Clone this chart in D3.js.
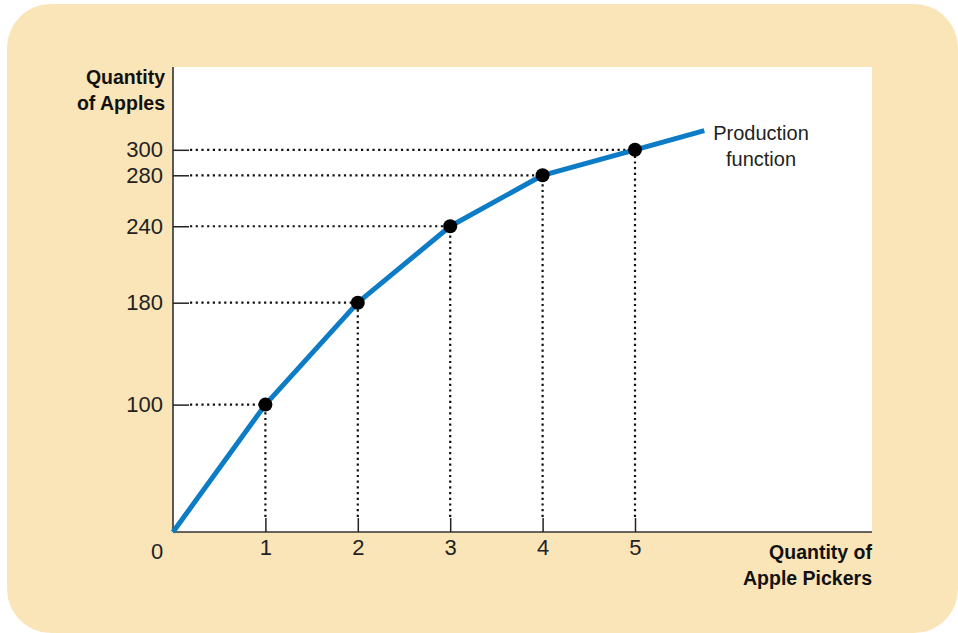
<!DOCTYPE html>
<html><head><meta charset="utf-8">
<script src="https://cdn.jsdelivr.net/npm/d3@7"></script>
<style>body{margin:0;background:#fff}svg{display:block}</style>
</head><body>
<svg id="c" width="958" height="633"></svg>
<script>
const pickers = [0, 1, 2, 3, 4, 5, 5.75];
const apples = [0, 100, 180, 240, 280, 300, 315];
const markedPickers = [1, 2, 3, 4, 5];
const markedApples = [100, 180, 240, 280, 300];
const xTicks = [1, 2, 3, 4, 5];
const yTicks = [100, 180, 240, 280, 300];

const svg = d3.select('#c');
svg.append('rect').attr('x', 7).attr('y', 4).attr('width', 951).attr('height', 629)
  .attr('rx', 44).attr('fill', '#fae5b8');

const L = 173, R = 872, T = 67, B = 532;
svg.append('rect').attr('x', L).attr('y', T).attr('width', R - L).attr('height', B - T).attr('fill', '#fff');

const x = d3.scaleLinear().domain([0, 7.565]).range([L, R]);
const y = d3.scaleLinear().domain([0, 365]).range([B, T]);

const font = "'Liberation Sans', Arial, sans-serif";

// dotted guides
const g = svg.append('g');
markedPickers.forEach((p, i) => {
  const a = markedApples[i];
  g.append('line').attr('x1', x(0) + 17).attr('x2', x(p)).attr('y1', y(a)).attr('y2', y(a))
    .attr('stroke', '#111').attr('stroke-width', 2.2).attr('stroke-dasharray', '2.2,3.5');
  g.append('line').attr('x1', x(p)).attr('x2', x(p)).attr('y1', y(0) - 15).attr('y2', y(a))
    .attr('stroke', '#111').attr('stroke-width', 2.2).attr('stroke-dasharray', '2.2,3.5');
});

// axes
const xAxis = d3.axisBottom(x).tickValues(xTicks).tickSizeInner(-14).tickSizeOuter(0).tickPadding(7).tickFormat(d3.format('d'));
const yAxis = d3.axisLeft(y).tickValues(yTicks).tickSizeInner(-16).tickSizeOuter(0).tickPadding(10).tickFormat(d3.format('d'));
const gx = svg.append('g').attr('transform', `translate(0,${B})`).call(xAxis);
const gy = svg.append('g').attr('transform', `translate(${L},0)`).call(yAxis);
[gx, gy].forEach(a => {
  a.select('.domain').attr('stroke', '#333').attr('stroke-width', 1.6);
  a.selectAll('.tick line').attr('stroke', '#222').attr('stroke-width', 1.5);
  a.selectAll('.tick text').attr('fill', '#222').style('font-family', font).style('font-size', '22px');
});
gx.select('.domain').attr('d', `M${L},0H${R}`);
gy.select('.domain').attr('d', `M0,${T}V${B}`);

svg.append('text').attr('x', 157).attr('y', 559).attr('text-anchor', 'middle')
  .style('font-family', font).style('font-size', '22px').attr('fill', '#222').text('0');

// curve
const line = d3.line().x((d, i) => x(pickers[i])).y((d, i) => y(apples[i])).curve(d3.curveLinear);
svg.append('path').datum(apples).attr('d', line).attr('fill', 'none')
  .attr('stroke', '#0b7cc5').attr('stroke-width', 5).attr('stroke-linejoin', 'round');

svg.selectAll('circle.pt').data(markedPickers).enter().append('circle')
  .attr('cx', d => x(d)).attr('cy', (d, i) => y(markedApples[i])).attr('r', 7).attr('fill', '#000');

// labels
const bold = { 'font-family': font, 'font-size': '19.5px', 'font-weight': 'bold', 'fill': '#111' };
function txt(xp, yp, s, anchor, st) {
  const t = svg.append('text').attr('x', xp).attr('y', yp).attr('text-anchor', anchor).text(s);
  Object.entries(st).forEach(([k, v]) => t.style(k, v));
}
txt(165, 84, 'Quantity', 'end', bold);
txt(165, 110, 'of Apples', 'end', bold);
txt(872, 559, 'Quantity of', 'end', bold);
txt(872, 585, 'Apple Pickers', 'end', bold);
const reg = { 'font-family': font, 'font-size': '20px', 'fill': '#222' };
txt(761, 140, 'Production', 'middle', reg);
txt(761, 166, 'function', 'middle', reg);
</script>
</body></html>
